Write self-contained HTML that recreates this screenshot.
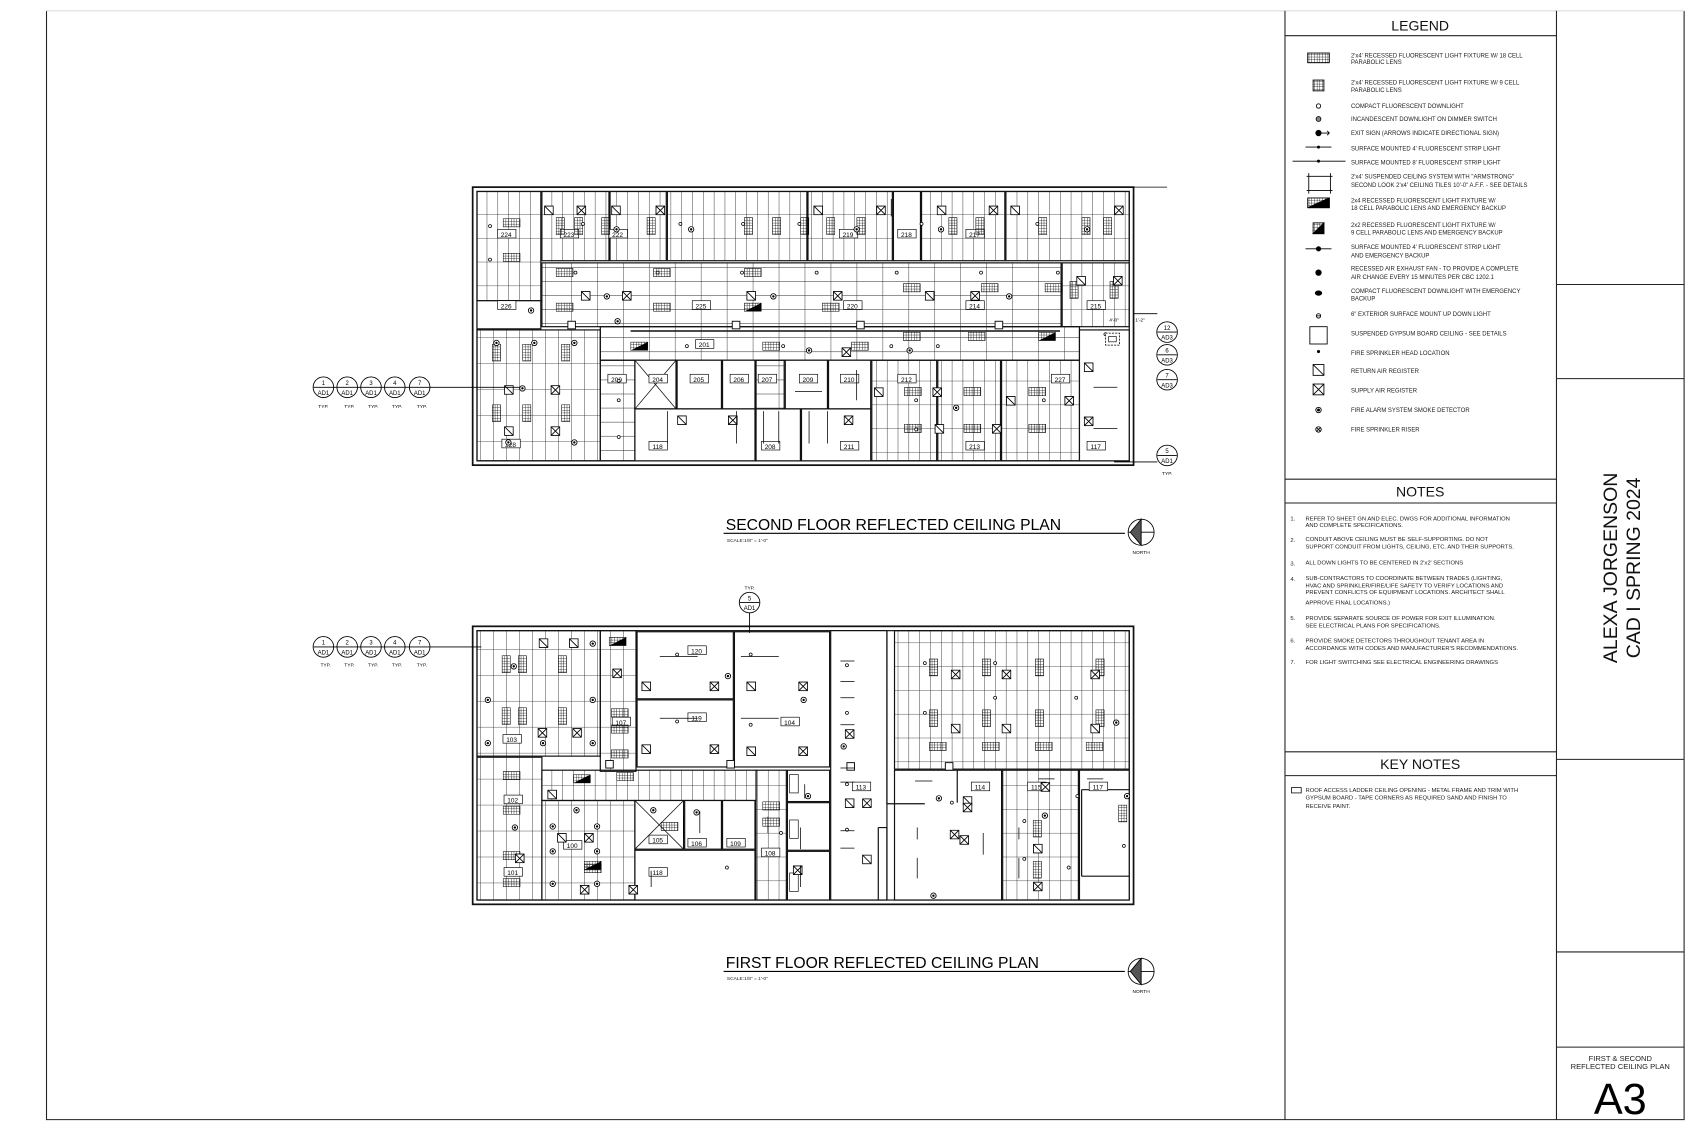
<!DOCTYPE html>
<html><head><meta charset="utf-8"><style>
html,body{margin:0;padding:0;background:#fff;}
svg{display:block;font-family:"Liberation Sans",sans-serif;}
</style></head><body>
<svg width="1696" height="1138" viewBox="0 0 1568 1052" preserveAspectRatio="none" xmlns="http://www.w3.org/2000/svg">
<defs>
<pattern id="tv" width="10" height="22" patternUnits="userSpaceOnUse"><path d="M0 0V22M0 0H10" stroke="#222" stroke-width="0.8" fill="none"/></pattern>
<pattern id="th" width="24" height="13" patternUnits="userSpaceOnUse"><path d="M0 0V13M0 0H24" stroke="#222" stroke-width="0.8" fill="none"/></pattern>
<pattern id="tb" width="12" height="24" patternUnits="userSpaceOnUse"><path d="M0 0V24M0 0H12" stroke="#222" stroke-width="0.8" fill="none"/></pattern>
<pattern id="cell" width="2.5" height="2.5" patternUnits="userSpaceOnUse"><path d="M0 0V2.5M0 0H2.5" stroke="#000" stroke-width="0.7" fill="none"/></pattern>
<symbol id="fv" viewBox="0 0 8 16" width="8" height="16"><rect x="0" y="0" width="8" height="16" fill="url(#cell)" stroke="#000" stroke-width="0.9"/></symbol>
<symbol id="fh" viewBox="0 0 16 8" width="16" height="8"><rect x="0" y="0" width="16" height="8" fill="url(#cell)" stroke="#000" stroke-width="0.9"/></symbol>
<symbol id="fe" viewBox="0 0 16 8" width="16" height="8"><rect x="0" y="0" width="16" height="8" fill="url(#cell)" stroke="#000" stroke-width="0.9"/><path d="M0 8L16 0V8Z" fill="#000"/></symbol>
<symbol id="ret" viewBox="0 0 9 9" width="9" height="9"><rect x="0.5" y="0.5" width="8" height="8" fill="#fff" stroke="#000" stroke-width="0.8"/><path d="M0.5 0.5L8.5 8.5" stroke="#000" stroke-width="0.8"/></symbol>
<symbol id="sup" viewBox="0 0 9 9" width="9" height="9"><rect x="0.5" y="0.5" width="8" height="8" fill="#fff" stroke="#000" stroke-width="0.8"/><path d="M0.5 0.5L8.5 8.5M8.5 0.5L0.5 8.5" stroke="#000" stroke-width="0.8"/></symbol>
<symbol id="sd" viewBox="0 0 6 6" width="6" height="6"><circle cx="3" cy="3" r="2.5" fill="#fff" stroke="#000" stroke-width="0.8"/><circle cx="3" cy="3" r="1.1" fill="#000"/></symbol>
<symbol id="dl" viewBox="0 0 4 4" width="4" height="4"><circle cx="2" cy="2" r="1.4" fill="#fff" stroke="#000" stroke-width="0.7"/></symbol>
</defs>

<g stroke="#222" fill="none" stroke-width="1">
<path d="M43 10V1035H1557V10"/>
<path d="M43 10H1557" stroke="#ddd"/>
<path d="M1188 10V1035M1439 10V1035"/>
<path d="M1188 33H1439M1188 443H1439M1188 465H1439M1188 695H1439M1188 717H1439"/>
<path d="M1439 263H1557M1439 350H1557M1439 702H1557M1439 880H1557M1439 968H1557"/>
</g>

<g font-size="13" text-anchor="middle" fill="#111">
<text x="1313" y="28">LEGEND</text>
<text x="1313" y="459">NOTES</text>
<text x="1313" y="711">KEY NOTES</text>
</g>
<g font-size="5.5" fill="#222">
<text x="1249" y="53">2'x4' RECESSED FLUORESCENT LIGHT FIXTURE W/ 18 CELL</text><text x="1249" y="59">PARABOLIC LENS</text>
<text x="1249" y="78">2'x4' RECESSED FLUORESCENT LIGHT FIXTURE W/ 9 CELL</text><text x="1249" y="85">PARABOLIC LENS</text>
<text x="1249" y="100">COMPACT FLUORESCENT DOWNLIGHT</text>
<text x="1249" y="112">INCANDESCENT DOWNLIGHT ON DIMMER SWITCH</text>
<text x="1249" y="125">EXIT SIGN (ARROWS INDICATE DIRECTIONAL SIGN)</text>
<text x="1249" y="139">SURFACE MOUNTED 4' FLUORESCENT STRIP LIGHT</text>
<text x="1249" y="152">SURFACE MOUNTED 8' FLUORESCENT STRIP LIGHT</text>
<text x="1249" y="165">2'x4' SUSPENDED CEILING SYSTEM WITH "ARMSTRONG"</text><text x="1249" y="173">SECOND LOOK 2'x4' CEILING TILES 10'-0" A.F.F. - SEE DETAILS</text>
<text x="1249" y="187">2x4 RECESSED FLUORESCENT LIGHT FIXTURE W/</text><text x="1249" y="194">18 CELL PARABOLIC LENS AND EMERGENCY BACKUP</text>
<text x="1249" y="210">2x2 RECESSED FLUORESCENT LIGHT FIXTURE W/</text><text x="1249" y="217">9 CELL PARABOLIC LENS AND EMERGENCY BACKUP</text>
<text x="1249" y="230">SURFACE MOUNTED 4' FLUORESCENT STRIP LIGHT</text><text x="1249" y="238">AND EMERGENCY BACKUP</text>
<text x="1249" y="250">RECESSED AIR EXHAUST FAN - TO PROVIDE A COMPLETE</text><text x="1249" y="258">AIR CHANGE EVERY 15 MINUTES PER CBC 1202.1</text>
<text x="1249" y="271">COMPACT FLUORESCENT DOWNLIGHT WITH EMERGENCY</text><text x="1249" y="278">BACKUP</text>
<text x="1249" y="292">6" EXTERIOR SURFACE MOUNT UP DOWN LIGHT</text>
<text x="1249" y="310">SUSPENDED GYPSUM BOARD CEILING - SEE DETAILS</text>
<text x="1249" y="328">FIRE SPRINKLER HEAD LOCATION</text>
<text x="1249" y="345">RETURN AIR REGISTER</text>
<text x="1249" y="363">SUPPLY AIR REGISTER</text>
<text x="1249" y="381">FIRE ALARM SYSTEM SMOKE DETECTOR</text>
<text x="1249" y="399">FIRE SPRINKLER RISER</text>
</g>
<g stroke="#000" fill="none" stroke-width="0.8">
<rect x="1209" y="49" width="20" height="9" fill="url(#cell)"/>
<rect x="1214" y="74" width="10" height="10" fill="url(#cell)"/>
<circle cx="1219" cy="98" r="2"/>
<circle cx="1219" cy="110" r="2.2" fill="#888"/>
<circle cx="1219" cy="123" r="2.5" fill="#000"/><path d="M1222 123H1229M1227 121L1229 123L1227 125"/>
<path d="M1207 136H1231"/><circle cx="1219" cy="136" r="1" fill="#000"/>
<path d="M1195 149H1244"/><circle cx="1219" cy="149" r="1" fill="#000"/>
<path d="M1208 163H1232M1208 176H1232M1210 160V179M1230 160V179"/>
<rect x="1209" y="183" width="20" height="9" fill="url(#cell)"/><path d="M1209 192L1229 183V192Z" fill="#000"/>
<rect x="1214" y="206" width="10" height="10" fill="url(#cell)"/><path d="M1214 216L1224 206V216Z" fill="#000"/>
<path d="M1207 230H1231"/><circle cx="1219" cy="230" r="2" fill="#000"/>
<circle cx="1219" cy="252" r="2.5" fill="#000"/>
<ellipse cx="1219" cy="271" rx="3" ry="2" fill="#000"/>
<circle cx="1219" cy="292" r="2"/><path d="M1217 292H1221"/>
<rect x="1211" y="302" width="16" height="16"/>
<circle cx="1219" cy="325" r="1" fill="#000"/>
<rect x="1214" y="337" width="10" height="10"/><path d="M1214 337L1224 347"/>
<rect x="1214" y="355" width="10" height="10"/><path d="M1214 355L1224 365M1224 355L1214 365"/>
<circle cx="1219" cy="379" r="2.5"/><circle cx="1219" cy="379" r="1" fill="#000"/>
<circle cx="1219" cy="397" r="2.5"/><path d="M1217 395L1221 399M1221 395L1217 399"/>
</g>

<g font-size="5.4" fill="#222">
<text x="1193" y="481">1.</text><text x="1207" y="481">REFER TO SHEET GN AND ELEC. DWGS FOR ADDITIONAL INFORMATION</text><text x="1207" y="487">AND COMPLETE SPECIFICATIONS.</text>
<text x="1193" y="501">2.</text><text x="1207" y="500">CONDUIT ABOVE CEILING MUST BE SELF-SUPPORTING.  DO NOT</text><text x="1207" y="507">SUPPORT CONDUIT FROM LIGHTS, CEILING, ETC. AND THEIR SUPPORTS.</text>
<text x="1193" y="523">3.</text><text x="1207" y="522">ALL DOWN LIGHTS TO BE CENTERED IN 2'x2' SECTIONS</text>
<text x="1193" y="537">4.</text><text x="1207" y="536">SUB-CONTRACTORS TO COORDINATE BETWEEN TRADES (LIGHTING,</text><text x="1207" y="543">HVAC AND SPRINKLER/FIRE/LIFE SAFETY TO VERIFY LOCATIONS AND</text><text x="1207" y="549">PREVENT CONFLICTS OF EQUIPMENT LOCATIONS. ARCHITECT SHALL</text><text x="1207" y="559">APPROVE FINAL LOCATIONS.)</text>
<text x="1193" y="573">5.</text><text x="1207" y="573">PROVIDE SEPARATE SOURCE OF POWER FOR EXIT ILLUMINATION.</text><text x="1207" y="580">SEE ELECTRICAL PLANS FOR SPECIFICATIONS.</text>
<text x="1193" y="594">6.</text><text x="1207" y="594">PROVIDE SMOKE DETECTORS THROUGHOUT TENANT AREA IN</text><text x="1207" y="601">ACCORDANCE WITH CODES AND MANUFACTURER'S RECOMMENDATIONS.</text>
<text x="1193" y="614">7.</text><text x="1207" y="614">FOR LIGHT SWITCHING SEE ELECTRICAL ENGINEERING DRAWINGS</text>
<text x="1207" y="732">ROOF ACCESS LADDER CEILING OPENING - METAL FRAME AND TRIM WITH</text><text x="1207" y="739">GYPSUM BOARD - TAPE CORNERS AS REQUIRED SAND AND FINISH TO</text><text x="1207" y="747">RECEIVE PAINT.</text>
</g>
<rect x="1194" y="728" width="9" height="5" fill="none" stroke="#000" stroke-width="0.7"/>

<g font-size="18" fill="#111" text-anchor="middle">
<text transform="translate(1495,525) rotate(-90)">ALEXA JORGENSON</text>
<text transform="translate(1516,525) rotate(-90)">CAD I SPRING 2024</text>
</g>
<g font-size="7" fill="#222" text-anchor="middle">
<text x="1498" y="981">FIRST &amp; SECOND</text>
<text x="1498" y="988">REFLECTED CEILING PLAN</text>
</g>
<text x="1498" y="1030" font-size="40" text-anchor="middle" fill="#000">A3</text>

<!-- SECOND FLOOR -->
<g stroke="#111" stroke-width="1.1">
<rect x="437" y="173" width="611" height="257" fill="#fff" stroke-width="1.6"/>
<rect x="441" y="177" width="603" height="249" fill="none"/>
<rect x="441" y="177" width="59" height="101" fill="url(#tv)"/>
<rect x="501" y="177" width="62" height="64" fill="url(#tv)"/>
<rect x="564" y="177" width="52" height="64" fill="url(#tv)"/>
<rect x="617" y="177" width="129" height="64" fill="url(#tv)"/>
<rect x="747" y="177" width="78" height="64" fill="url(#tv)"/>
<rect x="826" y="177" width="25" height="64" fill="#fff"/>
<rect x="852" y="177" width="77" height="64" fill="url(#tv)"/>
<rect x="930" y="177" width="114" height="64" fill="url(#tv)"/>
<rect x="441" y="278" width="59" height="26" fill="#fff"/>
<rect x="501" y="243" width="480" height="59" fill="url(#th)"/>
<rect x="982" y="243" width="62" height="59" fill="url(#tv)"/>
<rect x="441" y="305" width="114" height="121" fill="url(#tb)"/>
<rect x="555" y="302" width="443" height="31" fill="url(#th)"/>
<rect x="555" y="333" width="32" height="93" fill="url(#th)"/>
<rect x="587" y="333" width="38" height="45" fill="#fff"/>
<path d="M587 333L625 378M625 333L587 378" stroke-width="0.7" fill="none"/>
<rect x="626" y="333" width="41" height="45" fill="#fff"/>
<rect x="668" y="333" width="30" height="45" fill="#fff"/>
<rect x="699" y="333" width="26" height="45" fill="url(#th)"/>
<rect x="726" y="333" width="39" height="45" fill="#fff"/>
<rect x="766" y="333" width="39" height="45" fill="#fff"/>
<rect x="806" y="333" width="60" height="93" fill="url(#tv)"/>
<rect x="867" y="333" width="58" height="93" fill="url(#tv)"/>
<rect x="926" y="333" width="72" height="93" fill="url(#tv)"/>
<rect x="587" y="378" width="111" height="48" fill="#fff"/>
<rect x="699" y="378" width="41" height="48" fill="#fff"/>
<rect x="741" y="378" width="64" height="48" fill="#fff"/>
<rect x="998" y="305" width="46" height="121" fill="#fff"/>
<path d="M583 306H980" stroke-width="1.3" fill="none"/>
</g>
<g fill="#fff" stroke="#111" stroke-width="0.9">
<rect x="525" y="297" width="7" height="7"/><rect x="677" y="297" width="7" height="7"/><rect x="792" y="297" width="7" height="7"/><rect x="920" y="297" width="7" height="7"/>
</g>
<g font-size="6" text-anchor="middle" fill="#000">
<g fill="#fff" stroke="#000" stroke-width="0.6">
<rect x="460" y="212" width="17" height="8"/><rect x="518" y="212" width="17" height="8"/><rect x="563" y="212" width="17" height="8"/><rect x="830" y="212" width="17" height="8"/><rect x="776" y="212" width="17" height="8"/><rect x="893" y="212" width="17" height="8"/>
<rect x="460" y="278" width="17" height="8"/><rect x="640" y="278" width="17" height="8"/><rect x="780" y="278" width="17" height="8"/><rect x="893" y="278" width="17" height="8"/><rect x="1005" y="278" width="17" height="8"/>
<rect x="643" y="314" width="17" height="8"/><rect x="562" y="346" width="17" height="8"/><rect x="600" y="346" width="17" height="8"/><rect x="638" y="346" width="17" height="8"/><rect x="675" y="346" width="17" height="8"/><rect x="701" y="346" width="17" height="8"/><rect x="739" y="346" width="17" height="8"/><rect x="777" y="346" width="17" height="8"/><rect x="830" y="346" width="17" height="8"/><rect x="972" y="346" width="17" height="8"/>
<rect x="600" y="408" width="17" height="8"/><rect x="704" y="408" width="17" height="8"/><rect x="777" y="408" width="17" height="8"/><rect x="893" y="408" width="17" height="8"/><rect x="1005" y="408" width="17" height="8"/><rect x="464" y="406" width="17" height="8"/>
</g>
<text x="468" y="219">224</text><text x="526" y="219">223</text><text x="571" y="219">222</text><text x="838" y="219">218</text><text x="784" y="219">219</text><text x="901" y="219">217</text>
<text x="468" y="285">226</text><text x="648" y="285">225</text><text x="788" y="285">220</text><text x="901" y="285">214</text><text x="1013" y="285">215</text>
<text x="651" y="321">201</text><text x="570" y="353">200</text><text x="608" y="353">204</text><text x="646" y="353">205</text><text x="683" y="353">206</text><text x="709" y="353">207</text><text x="747" y="353">209</text><text x="785" y="353">210</text><text x="838" y="353">212</text><text x="980" y="353">227</text>
<text x="608" y="415">118</text><text x="712" y="415">208</text><text x="785" y="415">211</text><text x="901" y="415">213</text><text x="1013" y="415">117</text><text x="472" y="413">228</text>
</g>
<g>
<use href="#fh" x="465" y="202"/><use href="#fh" x="465" y="234"/>
<use href="#fv" x="514" y="201"/><use href="#fv" x="531" y="201"/><use href="#fv" x="556" y="201"/><use href="#fv" x="598" y="201"/>
<use href="#fv" x="688" y="201"/><use href="#fv" x="714" y="201"/><use href="#fv" x="740" y="201"/>
<use href="#fv" x="764" y="201"/><use href="#fv" x="792" y="201"/><use href="#fv" x="877" y="201"/><use href="#fv" x="902" y="201"/><use href="#fv" x="960" y="201"/><use href="#fv" x="1000" y="201"/><use href="#fv" x="1020" y="201"/>
<use href="#fh" x="514" y="248"/><use href="#fh" x="604" y="248"/><use href="#fh" x="688" y="248"/>
<use href="#fh" x="835" y="262"/><use href="#fh" x="907" y="262"/><use href="#fh" x="966" y="262"/>
<use href="#fh" x="514" y="280"/><use href="#fh" x="604" y="280"/><use href="#fe" x="688" y="280"/><use href="#fh" x="760" y="280"/>
<use href="#fh" x="835" y="307"/><use href="#fh" x="895" y="307"/><use href="#fe" x="960" y="307"/>
<use href="#fe" x="583" y="316"/><use href="#fh" x="705" y="316"/><use href="#fh" x="787" y="316"/>
<use href="#fv" x="455" y="318"/><use href="#fv" x="483" y="318"/><use href="#fv" x="519" y="318"/>
<use href="#fv" x="455" y="374"/><use href="#fv" x="483" y="374"/><use href="#fv" x="519" y="374"/>
<use href="#fh" x="836" y="358"/><use href="#fh" x="891" y="358"/><use href="#fh" x="951" y="358"/>
<use href="#fh" x="836" y="392"/><use href="#fh" x="891" y="392"/><use href="#fh" x="951" y="392"/>
<use href="#fv" x="989" y="260"/><use href="#fv" x="1026" y="260"/>
<use href="#ret" x="503" y="190"/><use href="#sup" x="533" y="190"/><use href="#ret" x="565" y="190"/><use href="#sup" x="606" y="190"/><use href="#ret" x="752" y="190"/><use href="#sup" x="810" y="190"/><use href="#ret" x="866" y="190"/><use href="#sup" x="914" y="190"/><use href="#ret" x="934" y="190"/><use href="#sup" x="1030" y="190"/>
<use href="#ret" x="537" y="269"/><use href="#sup" x="575" y="269"/><use href="#ret" x="690" y="269"/><use href="#sup" x="770" y="269"/><use href="#ret" x="855" y="269"/><use href="#sup" x="897" y="269"/><use href="#ret" x="995" y="255"/><use href="#sup" x="1029" y="255"/>
<use href="#ret" x="466" y="394"/><use href="#sup" x="509" y="394"/><use href="#ret" x="466" y="356"/><use href="#sup" x="509" y="356"/>
<use href="#ret" x="626" y="384"/><use href="#sup" x="673" y="384"/><use href="#sup" x="780" y="384"/><use href="#sup" x="778" y="321"/>
<use href="#ret" x="808" y="358"/><use href="#sup" x="862" y="358"/><use href="#ret" x="930" y="366"/><use href="#sup" x="984" y="366"/><use href="#ret" x="864" y="392"/><use href="#sup" x="917" y="392"/>
<use href="#ret" x="1002" y="335"/><use href="#sup" x="1002" y="385"/>
<use href="#sd" x="567" y="209"/><use href="#sd" x="636" y="209"/><use href="#sd" x="789" y="209"/><use href="#sd" x="867" y="209"/><use href="#sd" x="1002" y="209"/>
<use href="#sd" x="558" y="271"/><use href="#sd" x="712" y="271"/><use href="#sd" x="930" y="271"/><use href="#sd" x="488" y="284"/><use href="#sd" x="568" y="294"/>
<use href="#sd" x="456" y="314"/><use href="#sd" x="491" y="314"/><use href="#sd" x="528" y="314"/><use href="#sd" x="480" y="356"/><use href="#sd" x="467" y="406"/><use href="#sd" x="528" y="406"/>
<use href="#sd" x="745" y="321"/><use href="#sd" x="838" y="321"/><use href="#sd" x="881" y="374"/>
<use href="#dl" x="451" y="207"/><use href="#dl" x="451" y="238"/><use href="#dl" x="537" y="205"/><use href="#dl" x="627" y="205"/><use href="#dl" x="685" y="205"/><use href="#dl" x="737" y="205"/><use href="#dl" x="850" y="205"/><use href="#dl" x="957" y="205"/>
<use href="#dl" x="530" y="250"/><use href="#dl" x="606" y="250"/><use href="#dl" x="684" y="250"/><use href="#dl" x="753" y="250"/><use href="#dl" x="827" y="250"/><use href="#dl" x="905" y="250"/><use href="#dl" x="976" y="250"/>
<use href="#dl" x="633" y="318"/><use href="#dl" x="722" y="318"/><use href="#dl" x="822" y="318"/><use href="#dl" x="865" y="318"/>
<use href="#dl" x="570" y="350"/><use href="#dl" x="570" y="368"/><use href="#dl" x="570" y="402"/><use href="#dl" x="845" y="368"/><use href="#dl" x="845" y="395"/><use href="#dl" x="963" y="368"/><use href="#dl" x="1020" y="307"/>
</g>
<g stroke="#000" stroke-width="0.7" fill="none">
<path d="M617 380V410M681 380V410M706 380V410M748 380V410M720 380V410M765 380V410M792 342V370M735 362H760M824 184V200M1011 358H1033M1011 396H1033"/>
<path d="M1048 173H1079"/>
</g>
<g font-size="5.5" text-anchor="middle" fill="#000">
<g stroke="#000" stroke-width="0.8" fill="#fff">
<circle cx="299" cy="358" r="9.5"/><circle cx="321" cy="358" r="9.5"/><circle cx="343" cy="358" r="9.5"/><circle cx="365" cy="358" r="9.5"/><circle cx="388" cy="358" r="9.5"/>
<path d="M290 358H397M397 358H481" fill="none"/>
<circle cx="1079" cy="307" r="9.5"/><circle cx="1079" cy="328" r="9.5"/><circle cx="1079" cy="351" r="9.5"/><circle cx="1079" cy="421" r="9.5"/>
<path d="M1070 307H1088M1070 328H1088M1070 351H1088M1070 421H1088M1030 427H1070M1048 290H1070" fill="none"/>
</g>
<text x="299" y="356">1</text><text x="321" y="356">2</text><text x="343" y="356">3</text><text x="365" y="356">4</text><text x="388" y="356">7</text>
<text x="299" y="365">AD1</text><text x="321" y="365">AD1</text><text x="343" y="365">AD1</text><text x="365" y="365">AD1</text><text x="388" y="365">AD1</text>
<text x="299" y="377" font-size="4.5">TYP.</text><text x="323" y="377" font-size="4.5">TYP.</text><text x="345" y="377" font-size="4.5">TYP.</text><text x="367" y="377" font-size="4.5">TYP.</text><text x="390" y="377" font-size="4.5">TYP.</text>
<text x="1079" y="305">12</text><text x="1079" y="314">AD3</text><text x="1079" y="326">6</text><text x="1079" y="335">AD3</text><text x="1079" y="349">7</text><text x="1079" y="358">AD3</text>
<text x="1079" y="419">5</text><text x="1079" y="428">AD1</text><text x="1079" y="439" font-size="4.5">TYP.</text>
<text x="1030" y="297" font-size="4.5">4'-0"</text><text x="1054" y="297" font-size="4.5">1'-2"</text>
</g>
<rect x="1022" y="308" width="13" height="11" fill="#fff" stroke="#000" stroke-width="0.7" stroke-dasharray="2 1"/>
<rect x="1025" y="311" width="7" height="5" fill="#fff" stroke="#000" stroke-width="0.6"/>
<text x="671" y="490" font-size="14.5" fill="#000">SECOND FLOOR REFLECTED CEILING PLAN</text>
<path d="M669 493H1040" stroke="#000" stroke-width="1"/>
<text x="672" y="501" font-size="4.5" fill="#222">SCALE:1/8" = 1'-0"</text>
<g stroke="#000" stroke-width="0.8" fill="none"><circle cx="1055" cy="492" r="12"/><path d="M1055 480V504M1043 492H1067"/><path d="M1055 480L1045 492L1055 504Z" fill="#555"/></g>
<text x="1055" y="512" font-size="4.5" text-anchor="middle">NORTH</text>

<!-- FIRST FLOOR -->
<g stroke="#111" stroke-width="1.1">
<rect x="437" y="579" width="611" height="257" fill="#fff" stroke-width="1.6"/>
<rect x="441" y="583" width="603" height="249" fill="none"/>
<rect x="441" y="583" width="114" height="116" fill="url(#tb)"/>
<rect x="555" y="583" width="33" height="130" fill="url(#tb)"/>
<rect x="589" y="584" width="89" height="62" fill="#fff"/>
<rect x="589" y="647" width="89" height="62" fill="#fff"/>
<rect x="679" y="584" width="88" height="125" fill="#fff"/>
<rect x="441" y="700" width="60" height="132" fill="url(#tb)"/>
<rect x="501" y="712" width="198" height="28" fill="url(#tv)"/>
<rect x="501" y="740" width="86" height="92" fill="url(#tb)"/>
<rect x="587" y="740" width="45" height="45" fill="#fff"/>
<path d="M587 740L632 785M632 740L587 785" stroke-width="0.7" fill="none"/>
<rect x="633" y="740" width="34" height="45" fill="#fff"/>
<rect x="668" y="740" width="30" height="45" fill="#fff"/>
<rect x="587" y="786" width="111" height="46" fill="#fff"/>
<rect x="699" y="712" width="28" height="120" fill="url(#tv)"/>
<rect x="728" y="712" width="39" height="29" fill="#fff"/>
<rect x="728" y="742" width="39" height="44" fill="#fff"/>
<rect x="728" y="787" width="39" height="45" fill="#fff"/>
<rect x="768" y="583" width="52" height="249" fill="#fff"/>
<rect x="827" y="583" width="217" height="128" fill="url(#tv)"/>
<rect x="827" y="712" width="99" height="120" fill="#fff"/>
<rect x="927" y="712" width="70" height="120" fill="url(#tv)"/>
<rect x="998" y="712" width="46" height="120" fill="#fff"/>
<path d="M820 583V743H855M812 765V832M820 765V832M812 765H820M1000 730H1044M1000 730V810M1000 810H1044M885 712V742" fill="none"/>
</g>
<g fill="#fff" stroke="#111" stroke-width="0.9">
<rect x="560" y="703" width="7" height="7"/><rect x="672" y="703" width="7" height="7"/><rect x="783" y="705" width="7" height="7"/><rect x="874" y="705" width="7" height="7"/>
</g>
<g font-size="6" text-anchor="middle" fill="#000">
<g fill="#fff" stroke="#000" stroke-width="0.6">
<rect x="636" y="597" width="17" height="8"/><rect x="636" y="659" width="17" height="8"/><rect x="722" y="663" width="17" height="8"/><rect x="566" y="663" width="17" height="8"/><rect x="465" y="679" width="17" height="8"/>
<rect x="466" y="735" width="17" height="8"/><rect x="466" y="802" width="17" height="8"/><rect x="521" y="777" width="17" height="8"/><rect x="600" y="772" width="17" height="8"/><rect x="636" y="775" width="17" height="8"/><rect x="672" y="775" width="17" height="8"/><rect x="600" y="802" width="17" height="8"/>
<rect x="704" y="784" width="17" height="8"/><rect x="788" y="723" width="17" height="8"/><rect x="898" y="723" width="17" height="8"/><rect x="950" y="723" width="17" height="8"/><rect x="1007" y="723" width="17" height="8"/>
<rect x="730" y="716" width="8" height="17"/><rect x="730" y="758" width="8" height="17"/><rect x="730" y="807" width="8" height="17"/>
</g>
<text x="644" y="604">120</text><text x="644" y="666">119</text><text x="730" y="670">104</text><text x="574" y="670">107</text><text x="473" y="686">103</text>
<text x="474" y="742">102</text><text x="474" y="809">101</text><text x="529" y="784">100</text><text x="608" y="779">105</text><text x="644" y="782">106</text><text x="680" y="782">109</text><text x="608" y="809">118</text>
<text x="712" y="791">108</text><text x="796" y="730">113</text><text x="906" y="730">114</text><text x="958" y="730">115</text><text x="1015" y="730">117</text>
</g>
<g>
<use href="#fv" x="464" y="606"/><use href="#fv" x="479" y="606"/><use href="#fv" x="516" y="606"/><use href="#fv" x="464" y="654"/><use href="#fv" x="479" y="654"/><use href="#fv" x="516" y="654"/>
<use href="#fh" x="465" y="713"/><use href="#fh" x="465" y="745"/><use href="#fh" x="465" y="787"/><use href="#fh" x="465" y="812"/>
<use href="#fv" x="859" y="609"/><use href="#fv" x="908" y="609"/><use href="#fv" x="957" y="609"/><use href="#fv" x="1013" y="609"/>
<use href="#fv" x="859" y="656"/><use href="#fv" x="908" y="656"/><use href="#fv" x="957" y="656"/><use href="#fv" x="1013" y="656"/>
<use href="#fh" x="859" y="686"/><use href="#fh" x="908" y="686"/><use href="#fh" x="957" y="686"/><use href="#fh" x="1004" y="686"/>
<use href="#fv" x="955" y="758"/><use href="#fv" x="955" y="796"/><use href="#fv" x="1034" y="744"/>
<use href="#fh" x="565" y="693"/><use href="#fh" x="565" y="655"/><use href="#fh" x="565" y="670"/>
<use href="#fh" x="611" y="760"/><use href="#fh" x="570" y="714"/><use href="#fh" x="705" y="741"/><use href="#fh" x="705" y="756"/><use href="#fh" x="540" y="799"/>
<use href="#fe" x="530" y="716"/><use href="#fe" x="540" y="796"/><use href="#fe" x="563" y="589"/>
<use href="#ret" x="498" y="590"/><use href="#ret" x="526" y="590"/><use href="#sup" x="497" y="673"/><use href="#sup" x="529" y="673"/><use href="#sup" x="566" y="618"/>
<use href="#ret" x="593" y="630"/><use href="#sup" x="656" y="630"/><use href="#ret" x="593" y="688"/><use href="#sup" x="656" y="688"/><use href="#ret" x="690" y="630"/><use href="#sup" x="738" y="630"/><use href="#ret" x="690" y="690"/><use href="#sup" x="738" y="690"/>
<use href="#ret" x="515" y="770"/><use href="#sup" x="540" y="770"/><use href="#sup" x="476" y="789"/><use href="#ret" x="506" y="730"/><use href="#sup" x="536" y="818"/><use href="#sup" x="581" y="818"/>
<use href="#sup" x="879" y="619"/><use href="#sup" x="926" y="619"/><use href="#sup" x="1008" y="619"/><use href="#ret" x="879" y="669"/><use href="#ret" x="926" y="669"/><use href="#ret" x="1008" y="669"/>
<use href="#sup" x="781" y="674"/><use href="#ret" x="781" y="738"/><use href="#sup" x="797" y="738"/><use href="#ret" x="797" y="790"/>
<use href="#sup" x="878" y="767"/><use href="#ret" x="890" y="736"/><use href="#sup" x="890" y="742"/><use href="#sup" x="887" y="772"/>
<use href="#sup" x="962" y="723"/><use href="#ret" x="955" y="780"/><use href="#sup" x="955" y="815"/><use href="#sup" x="733" y="800"/>
<use href="#sd" x="448" y="644"/><use href="#sd" x="448" y="684"/><use href="#sd" x="545" y="592"/><use href="#sd" x="545" y="644"/><use href="#sd" x="545" y="684"/><use href="#sd" x="472" y="613"/><use href="#sd" x="499" y="684"/>
<use href="#sd" x="473" y="762"/><use href="#sd" x="530" y="746"/><use href="#sd" x="508" y="761"/><use href="#sd" x="549" y="761"/><use href="#sd" x="508" y="784"/><use href="#sd" x="549" y="784"/><use href="#sd" x="508" y="814"/><use href="#sd" x="549" y="814"/>
<use href="#sd" x="601" y="746"/><use href="#sd" x="641" y="748"/><use href="#sd" x="670" y="622"/><use href="#sd" x="740" y="644"/><use href="#sd" x="744" y="733"/>
<use href="#sd" x="777" y="687"/><use href="#sd" x="865" y="735"/><use href="#sd" x="860" y="825"/><use href="#sd" x="963" y="751"/><use href="#sd" x="1039" y="733"/><use href="#sd" x="1029" y="665"/>
<use href="#dl" x="624" y="603"/><use href="#dl" x="624" y="665"/><use href="#dl" x="692" y="603"/><use href="#dl" x="692" y="668"/><use href="#dl" x="781" y="613"/><use href="#dl" x="781" y="657"/><use href="#dl" x="781" y="723"/><use href="#dl" x="781" y="765"/><use href="#dl" x="853" y="657"/><use href="#dl" x="918" y="643"/><use href="#dl" x="993" y="643"/><use href="#dl" x="853" y="611"/><use href="#dl" x="918" y="611"/>
<use href="#dl" x="878" y="740"/><use href="#dl" x="994" y="734"/><use href="#dl" x="986" y="800"/><use href="#dl" x="1037" y="780"/><use href="#dl" x="945" y="757"/><use href="#dl" x="945" y="792"/><use href="#dl" x="720" y="768"/><use href="#dl" x="670" y="800"/>
</g>
<g stroke="#000" stroke-width="0.7" fill="none">
<path d="M610 607H645M685 607H720M610 664H645M685 664H720M777 611H790M777 630H790M777 645H790M777 670H790M777 710H790M777 723H790M777 768H790M777 784H790"/>
<path d="M848 793V812M848 765V776M909 770V790M942 765V776M942 793V812M846 722H862M960 720H975M1005 720H1020M710 755V770M632 755V775M647 750V770M744 725V738M740 765V785M740 800V820M602 805V820"/>
</g>
<g font-size="5.5" text-anchor="middle" fill="#000">
<g stroke="#000" stroke-width="0.8" fill="#fff">
<path d="M397 598H445M693 566V585" fill="none"/>
<circle cx="299" cy="598" r="9.5"/><circle cx="321" cy="598" r="9.5"/><circle cx="343" cy="598" r="9.5"/><circle cx="365" cy="598" r="9.5"/><circle cx="388" cy="598" r="9.5"/>
<path d="M290 598H397" fill="none"/>
<circle cx="693" cy="557" r="9.5"/><path d="M684 557H702" fill="none"/>
</g>
<text x="299" y="596">1</text><text x="321" y="596">2</text><text x="343" y="596">3</text><text x="365" y="596">4</text><text x="388" y="596">7</text>
<text x="299" y="605">AD1</text><text x="321" y="605">AD1</text><text x="343" y="605">AD1</text><text x="365" y="605">AD1</text><text x="388" y="605">AD1</text>
<text x="301" y="616" font-size="4.5">TYP.</text><text x="323" y="616" font-size="4.5">TYP.</text><text x="345" y="616" font-size="4.5">TYP.</text><text x="367" y="616" font-size="4.5">TYP.</text><text x="390" y="616" font-size="4.5">TYP.</text>
<text x="693" y="545" font-size="4.5">TYP.</text><text x="693" y="555">5</text><text x="693" y="564">AD1</text>
</g>
<text x="671" y="895" font-size="14.5" fill="#000">FIRST FLOOR REFLECTED CEILING PLAN</text>
<path d="M669 898H1040" stroke="#000" stroke-width="1"/>
<text x="672" y="906" font-size="4.5" fill="#222">SCALE:1/8" = 1'-0"</text>
<g stroke="#000" stroke-width="0.8" fill="none"><circle cx="1055" cy="898" r="12"/><path d="M1055 886V910M1043 898H1067"/><path d="M1055 886L1045 898L1055 910Z" fill="#555"/></g>
<text x="1055" y="918" font-size="4.5" text-anchor="middle">NORTH</text>
</svg>
</body></html>
